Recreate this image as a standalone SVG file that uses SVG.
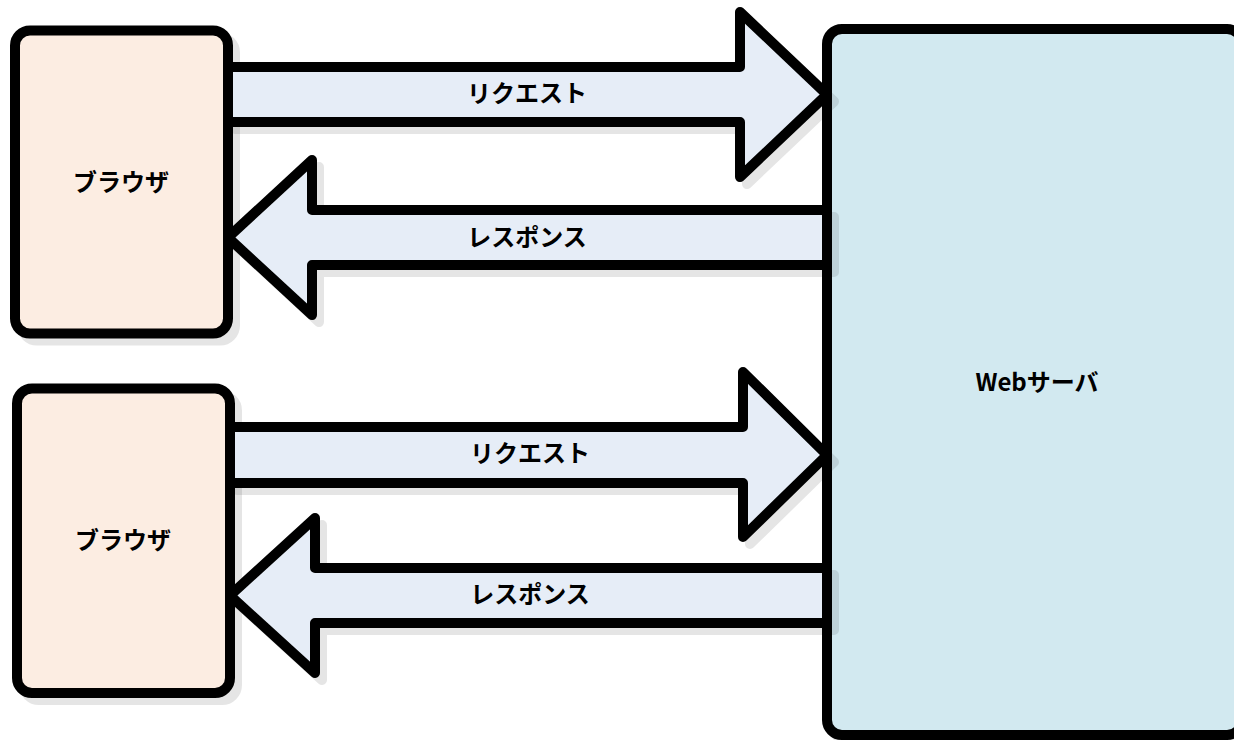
<svg xmlns="http://www.w3.org/2000/svg" width="1234" height="740" viewBox="0 0 1234 740">
  <defs>
    <filter id="shadow" x="-5%" y="-5%" width="115%" height="115%">
      <feDropShadow dx="7" dy="7" stdDeviation="0.6" flood-color="#000" flood-opacity="0.1"/>
    </filter>
  </defs>
  <style>
    .node { stroke: #000; stroke-width: 10; stroke-linejoin: round; filter: url(#shadow); }
    .browser { fill: #fcede2; }
    .server { fill: #d2e9f0; }
    .arrow { fill: #e6edf7; stroke: #000; stroke-width: 10; stroke-linejoin: round; filter: url(#shadow); }
    .label { font-family: "Noto Sans CJK JP", "DejaVu Sans", sans-serif; font-weight: bold; font-size: 24px; fill: #000; text-anchor: middle; dominant-baseline: central; }
  </style>

  <!-- Server -->
  <g id="web-server">
    <rect class="node server" x="827" y="29" width="415" height="706" rx="15"/>
    <text class="label" x="1037" y="380">Webサーバ</text>
  </g>

  <!-- Clients -->
  <g id="browser-1">
    <rect class="node browser" x="15" y="30.5" width="213" height="303" rx="15"/>
    <text class="label" x="121" y="180">ブラウザ</text>
  </g>
  <g id="browser-2">
    <rect class="node browser" x="17" y="388.5" width="213" height="304.5" rx="15"/>
    <text class="label" x="123" y="538">ブラウザ</text>
  </g>

  <!-- Request / response block arrows -->
  <g id="connectors">
    <g id="request-1">
      <path class="arrow" d="M228 67 H740 V12 L827 94.5 L740 177 V122 H228 Z"/>
      <text class="label" x="527" y="91">リクエスト</text>
    </g>
    <g id="response-1">
      <path class="arrow" d="M827 210 H312 V160 L228 237.5 L312 315 V265 H827 Z"/>
      <text class="label" x="527" y="235">レスポンス</text>
    </g>
    <g id="request-2">
      <path class="arrow" d="M230 427 H743 V372 L827 455 L743 537 V483 H230 Z"/>
      <text class="label" x="530" y="451">リクエスト</text>
    </g>
    <g id="response-2">
      <path class="arrow" d="M827 568 H315 V518 L230 595.5 L315 673 V623 H827 Z"/>
      <text class="label" x="530" y="592">レスポンス</text>
    </g>
  </g>
</svg>
